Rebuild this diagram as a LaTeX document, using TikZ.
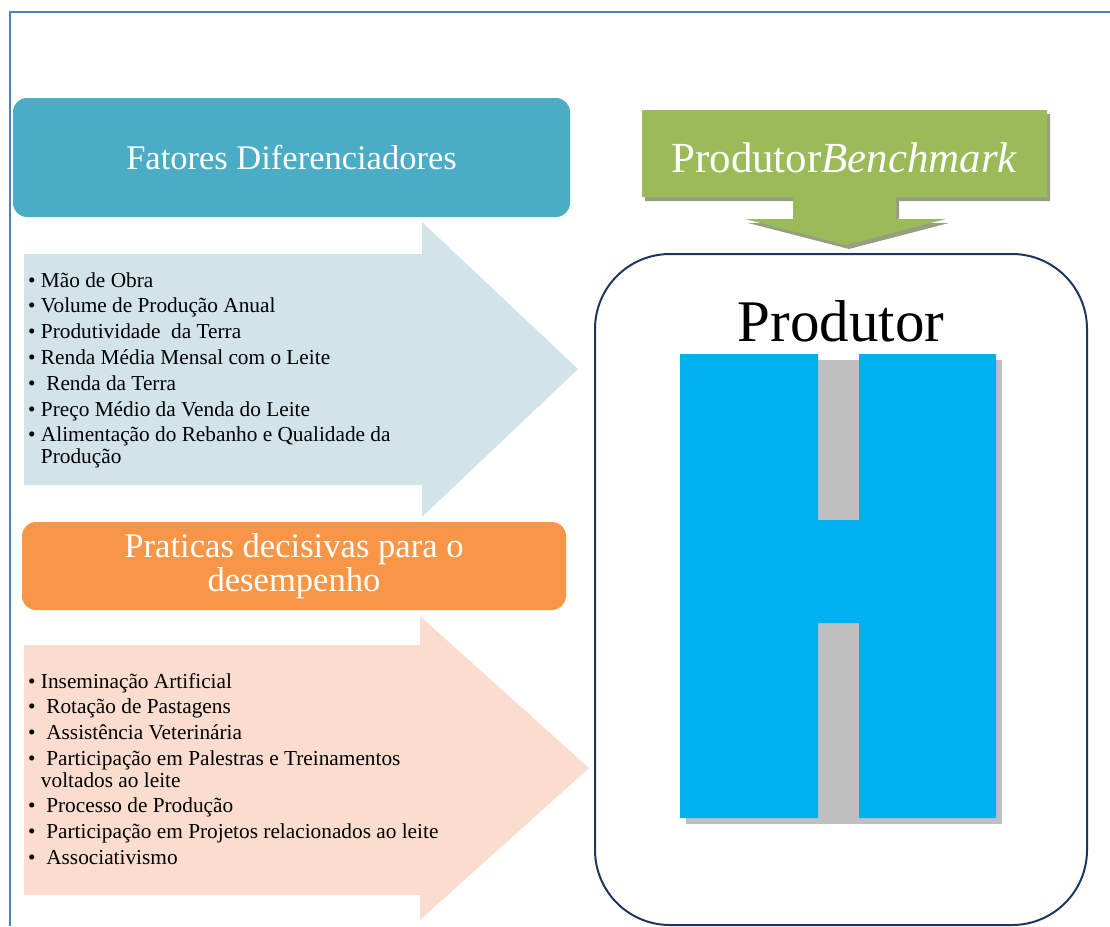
\documentclass[tikz,border=0pt]{standalone}
\usepackage{fontspec}
\setmainfont{LiberationSerif}[Extension=.ttf,UprightFont=*-Regular,
  ItalicFont=*-Italic,BoldFont=*-Bold,BoldItalicFont=*-BoldItalic]

\definecolor{framecol}{RGB}{79,129,189}
\definecolor{tealhead}{RGB}{75,172,198}
\definecolor{orangehead}{RGB}{247,150,70}
\definecolor{benchgreen}{RGB}{155,187,89}
\definecolor{benchshade}{RGB}{150,160,128}
\definecolor{bluearrow}{RGB}{211,227,234}
\definecolor{salmonarrow}{RGB}{251,221,207}
\definecolor{hblue}{RGB}{0,176,240}
\definecolor{hgray}{RGB}{191,191,191}
\definecolor{navyline}{RGB}{28,55,95}

\begin{document}
\begin{tikzpicture}
[x=1pt,y=-1pt,
headbox/.style={rounded corners=14pt,text=white,inner sep=0pt,align=center},
itemlist/.style={anchor=base west,inner sep=0pt,font=\fontsize{21.3}{25.8}\selectfont}
]
\useasboundingbox (0,0) rectangle (1110,926);
\draw[framecol,line width=2pt] (10,926) -- (10,12) -- (1110,12);

% block arrows behind the two lists
\fill[bluearrow] (24,254) -- (422,254) -- (422,222) -- (578,369)
    -- (422,517) -- (422,485) -- (24,485) -- cycle;
\fill[salmonarrow] (24,645) -- (420,645) -- (420,616) -- (589,768)
    -- (420,920) -- (420,895) -- (24,895) -- cycle;

\node[headbox,fill=tealhead,minimum width=557pt,minimum height=119pt,
      font=\fontsize{34.5}{34.5}\selectfont] (fatores) at (291.5,157.5)
    {Fatores Diferenciadores};
\node[headbox,fill=orangehead,minimum width=544pt,minimum height=88pt,
      font=\fontsize{34.6}{34}\selectfont] (praticas) at (294,566)
    {\raisebox{-2pt}{Praticas decisivas para o}\\\raisebox{-2pt}{desempenho}};

\node[itemlist] (fatoreslist) at (28,287) {\begin{tabular}[t]{@{}l@{}}
•\ Mão de Obra\\
•\ Volume de Produção Anual\\
•\ Produtividade\ \ da Terra\\
•\ Renda Média Mensal com o Leite\\
•\ \ Renda da Terra\\
•\ Preço Médio da Venda do Leite\\
•\ Alimentação do Rebanho e Qualidade da\\[-3.8pt]
\phantom{•\ }Produção
\end{tabular}};

\node[itemlist] (praticaslist) at (28,688) {\begin{tabular}[t]{@{}l@{}}
•\ Inseminação Artificial\\
•\ \ Rotação de Pastagens\\
•\ \ Assistência Veterinária\\
•\ \ Participação em Palestras e Treinamentos\\[-4.2pt]
\phantom{•\ }voltados ao leite\\
•\ \ Processo de Produção\\
•\ \ Participação em Projetos relacionados ao leite\\
•\ \ Associativismo
\end{tabular}};

% benchmark callout pointing down
\fill[benchshade] (645,114) -- (1050,114) -- (1050,201) -- (899,201) -- (899,223)
    -- (949,223) -- (849,249) -- (748,223) -- (796,223) -- (796,201) -- (645,201) -- cycle;
\fill[benchgreen] (642,110) -- (1047,110) -- (1047,197) -- (896,197) -- (896,219)
    -- (946,219) -- (846,245) -- (745,219) -- (793,219) -- (793,197) -- (642,197) -- cycle;
\node[text=white,inner sep=0pt,text height=37pt,text depth=0pt,
      font=\fontsize{42.9}{42.9}\selectfont] (bench) at (844.5,153.5)
    {Produtor\textit{Benchmark}};

% producer panel with the H
\draw[navyline,line width=2pt,rounded corners=75pt] (595,254) rectangle (1087,925);
\node[anchor=base,inner sep=0pt,font=\fontsize{59}{59}\selectfont] (produtor) at (841,341)
    {Produtor};
\fill[hgray] (686,360) rectangle (1002,824);
\fill[hblue] (680,354) rectangle (818,818)
    (859,354) rectangle (996,818)
    (817,520) rectangle (860,623);
\end{tikzpicture}
\end{document}
